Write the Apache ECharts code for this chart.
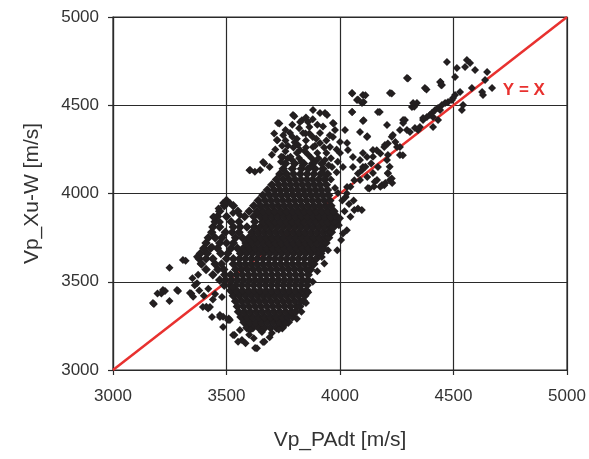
<!DOCTYPE html>
<html>
<head>
<meta charset="utf-8">
<script src="https://cdn.jsdelivr.net/npm/echarts@6/dist/echarts.min.js"></script>
<style>html,body{margin:0;padding:0;background:#fff;}#c{width:589px;height:459px;}</style>
</head>
<body>
<div id="c"></div>
<script>
// Axis ticks
const xTicks = [3000, 3500, 4000, 4500, 5000];
const yTicks = [3000, 3500, 4000, 4500, 5000];
// Reference line Y = X
const identityLine = [[3000, 3000], [5000, 5000]];
const identityLabel = 'Y = X';
const identityLabelAt = [[4810, 4586]];

// Dense core of the cloud
const corePoints = [
[3590,3240],[3616,3240],[3642,3240],[3668,3240],[3694,3240],[3720,3240],[3746,3240],
[3577,3270],[3603,3270],[3629,3270],[3655,3270],[3681,3270],[3707,3270],[3733,3270],[3759,3270],[3772,3270],
[3564,3300],[3590,3300],[3616,3300],[3642,3300],[3668,3300],[3694,3300],[3720,3300],[3746,3300],[3772,3300],[3790,3300],
[3553,3330],[3579,3330],[3605,3330],[3631,3330],[3657,3330],[3683,3330],[3709,3330],[3735,3330],[3761,3330],[3787,3330],[3805,3330],
[3548,3360],[3574,3360],[3600,3360],[3626,3360],[3652,3360],[3678,3360],[3704,3360],[3730,3360],[3756,3360],[3782,3360],[3808,3360],[3822,3360],
[3540,3390],[3566,3390],[3592,3390],[3618,3390],[3644,3390],[3670,3390],[3696,3390],[3722,3390],[3748,3390],[3774,3390],[3800,3390],[3826,3390],[3840,3390],
[3530,3420],[3556,3420],[3582,3420],[3608,3420],[3634,3420],[3660,3420],[3686,3420],[3712,3420],[3738,3420],[3764,3420],[3790,3420],[3816,3420],[3845,3420],
[3518,3450],[3544,3450],[3570,3450],[3596,3450],[3622,3450],[3648,3450],[3674,3450],[3700,3450],[3726,3450],[3752,3450],[3778,3450],[3804,3450],[3830,3450],[3852,3450],
[3490,3480],[3516,3480],[3542,3480],[3568,3480],[3594,3480],[3620,3480],[3646,3480],[3672,3480],[3698,3480],[3724,3480],[3750,3480],[3776,3480],[3802,3480],[3828,3480],[3855,3480],
[3470,3510],[3496,3510],[3522,3510],[3548,3510],[3574,3510],[3600,3510],[3626,3510],[3652,3510],[3678,3510],[3704,3510],[3730,3510],[3756,3510],[3782,3510],[3808,3510],[3834,3510],[3858,3510],
[3440,3540],[3492,3540],[3518,3540],[3544,3540],[3570,3540],[3596,3540],[3622,3540],[3648,3540],[3674,3540],[3700,3540],[3726,3540],[3752,3540],[3778,3540],[3804,3540],[3830,3540],[3860,3540],
[3410,3570],[3462,3570],[3488,3570],[3540,3570],[3566,3570],[3592,3570],[3618,3570],[3644,3570],[3670,3570],[3696,3570],[3722,3570],[3748,3570],[3774,3570],[3800,3570],[3826,3570],[3852,3570],[3870,3570],
[3390,3600],[3450,3600],[3478,3600],[3530,3600],[3556,3600],[3582,3600],[3608,3600],[3634,3600],[3660,3600],[3686,3600],[3712,3600],[3738,3600],[3764,3600],[3790,3600],[3816,3600],[3842,3600],[3868,3600],[3885,3600],
[3380,3630],[3410,3630],[3440,3630],[3500,3630],[3530,3630],[3557,3630],[3583,3630],[3609,3630],[3635,3630],[3661,3630],[3687,3630],[3713,3630],[3739,3630],[3765,3630],[3791,3630],[3817,3630],[3843,3630],[3869,3630],[3895,3630],
[3385,3660],[3415,3660],[3475,3660],[3505,3660],[3562,3660],[3588,3660],[3614,3660],[3640,3660],[3666,3660],[3692,3660],[3718,3660],[3744,3660],[3770,3660],[3796,3660],[3822,3660],[3848,3660],[3874,3660],[3900,3660],[3915,3660],
[3400,3690],[3430,3690],[3460,3690],[3520,3690],[3548,3690],[3574,3690],[3600,3690],[3626,3690],[3652,3690],[3678,3690],[3704,3690],[3730,3690],[3756,3690],[3782,3690],[3808,3690],[3834,3690],[3860,3690],[3886,3690],[3912,3690],[3925,3690],
[3410,3720],[3470,3720],[3500,3720],[3530,3720],[3586,3720],[3612,3720],[3638,3720],[3664,3720],[3690,3720],[3716,3720],[3742,3720],[3768,3720],[3794,3720],[3820,3720],[3846,3720],[3872,3720],[3898,3720],[3924,3720],[3938,3720],
[3420,3750],[3450,3750],[3480,3750],[3540,3750],[3570,3750],[3598,3750],[3624,3750],[3650,3750],[3676,3750],[3702,3750],[3728,3750],[3754,3750],[3780,3750],[3806,3750],[3832,3750],[3858,3750],[3884,3750],[3910,3750],[3936,3750],[3950,3750],
[3435,3780],[3495,3780],[3525,3780],[3555,3780],[3612,3780],[3638,3780],[3664,3780],[3690,3780],[3716,3780],[3742,3780],[3768,3780],[3794,3780],[3820,3780],[3846,3780],[3872,3780],[3898,3780],[3924,3780],[3950,3780],[3962,3780],
[3440,3810],[3470,3810],[3530,3810],[3560,3810],[3590,3810],[3622,3810],[3648,3810],[3674,3810],[3700,3810],[3726,3810],[3752,3810],[3778,3810],[3804,3810],[3830,3810],[3856,3810],[3882,3810],[3908,3810],[3934,3810],[3960,3810],[3972,3810],
[3450,3840],[3520,3840],[3555,3840],[3625,3840],[3660,3840],[3686,3840],[3712,3840],[3738,3840],[3764,3840],[3790,3840],[3816,3840],[3842,3840],[3868,3840],[3894,3840],[3920,3840],[3946,3840],[3972,3840],[3985,3840],
[3460,3870],[3500,3870],[3580,3870],[3620,3870],[3648,3870],[3674,3870],[3700,3870],[3726,3870],[3752,3870],[3778,3870],[3804,3870],[3830,3870],[3856,3870],[3882,3870],[3908,3870],[3934,3870],[3960,3870],[3986,3870],
[3470,3900],[3550,3900],[3600,3900],[3635,3900],[3661,3900],[3687,3900],[3713,3900],[3739,3900],[3765,3900],[3791,3900],[3817,3900],[3843,3900],[3869,3900],[3895,3900],[3921,3900],[3947,3900],[3973,3900],
[3490,3930],[3530,3930],[3620,3930],[3650,3930],[3676,3930],[3702,3930],[3728,3930],[3754,3930],[3780,3930],[3806,3930],[3832,3930],[3858,3930],[3884,3930],[3910,3930],[3936,3930],[3960,3930],
[3500,3960],[3640,3960],[3670,3960],[3696,3960],[3722,3960],[3748,3960],[3774,3960],[3800,3960],[3826,3960],[3852,3960],[3878,3960],[3904,3960],[3930,3960],[3955,3960],
[3660,3990],[3690,3990],[3716,3990],[3742,3990],[3768,3990],[3794,3990],[3820,3990],[3846,3990],[3872,3990],[3898,3990],[3924,3990],[3950,3990],
[3680,4020],[3710,4020],[3736,4020],[3762,4020],[3788,4020],[3814,4020],[3840,4020],[3866,4020],[3892,4020],[3918,4020],[3945,4020],
[3700,4050],[3730,4050],[3756,4050],[3782,4050],[3808,4050],[3834,4050],[3860,4050],[3886,4050],[3912,4050],[3940,4050],
[3720,4080],[3750,4080],[3776,4080],[3802,4080],[3828,4080],[3854,4080],[3880,4080],[3906,4080],[3932,4080],
[3735,4110],[3765,4110],[3795,4110],[3825,4110],[3855,4110],[3885,4110],[3915,4110],[3945,4110],
[3750,4140],[3790,4140],[3830,4140],[3860,4140],[3890,4140],[3925,4140],
[3760,4170],[3800,4170],[3840,4170],[3880,4170],[3920,4170]
];

// Upper part of the cloud
const upperPoints = [
[3881,4473],[3912,4456],[3943,4445],[3793,4445],[3727,4400],[3824,4405],[3859,4405],[3780,4343],[3837,4343],[3722,4303],
[3912,4343],[3749,4207],[3789,4190],[3824,4246],[3881,4263],[3912,4286],[3661,4178],[3604,4133],[3648,4133],[3934,4456],
[3969,4399],[3978,4360],[3956,4263],[3934,4190],[3965,4150],[3925,4116],[3969,4320],[3733,4396],[3799,4438],[3832,4415],
[3865,4377],[3790,4321],[3848,4340],[3782,4208],[3741,4208],[3724,4302],[3799,4170],[3972,4396],[3770,4270],[3800,4290],
[3850,4300],[3880,4320],[3900,4230],[3860,4220],[3820,4200],[3760,4240],[3940,4230],[3850,4260],[3890,4180],[3820,4370],
[3880,4420],[3760,4360],[3960,4200],[3900,4390],[3940,4300],[3715,4250],[3870,4150],[3835,4160],[3690,4150],[3625,4123],
[3601,4132],[3667,4170],[3740,4180],[3770,4200],[3810,4230],[3845,4240],[3875,4200],[3905,4200],[3930,4260],[3795,4260],
[3745,4270],[3810,4310],[3865,4340],[3895,4310],[3925,4380],[3850,4430],[3790,4390],[3750,4330],[3700,4220],[3955,4330],
[3985,4250],[3990,4180],[3950,4160],[3985,4120],[3960,4080],[3815,4275],[3890,4270],[3830,4180],[3760,4300],[3710,4340]
];

// Right edge of the core, right part of the cloud and trail along the line
const rightPoints = [
[3931,3604],[3947,3679],[3900,3560],[3880,3500],[3920,3640],[3860,3440],[3850,3380],[3830,3330],[3810,3290],[3925,3680],
[4000,4292],[4000,4229],[4013,4150],[4031,4037],[3978,4031],[3991,4003],[4031,4286],[4035,4246],[4057,4207],[4057,4150],
[4088,4190],[4101,4150],[4119,4207],[4101,4229],[4145,4246],[4198,4275],[4211,4218],[4251,4263],[4264,4218],[4233,4331],
[4264,4360],[4308,4348],[4352,4377],[4167,4150],[4207,4190],[4211,4116],[4185,4048],[4163,4076],[4220,4076],[4145,4116],
[4088,4076],[4123,4031],[4022,4360],[4088,4348],[4119,4320],[4207,4388],[4278,4416],[4366,4428],[4053,4462],[4167,4462],
[4101,4411],[4317,4490],[4339,4513],[4053,4569],[4075,4530],[4101,4558],[4097,4513],[4220,4569],[4295,4654],[4374,4598],
[4063,3906],[4079,3915],[4096,3906],[4046,3868],[4030,3792],[4005,3736],[3988,3679],[4013,3774],[4228,4321],[4244,4292],
[4277,4217],[4020,3900],[4040,3940],[4000,3860],[3995,3820],[4010,3960],[4060,3960],[4025,3980],[4030,4000],[4046,4038],
[4063,4075],[4079,4113],[4096,4132],[4112,4151],[4137,4170],[4145,4208],[4162,4245],[4178,4226],[4195,4264],[4211,4283],
[4211,4113],[4228,4085],[4195,4047],[4178,4038],[4153,4066],[4129,4028],[4120,4094],[4219,4151],[4200,4060],[4230,4060],
[4150,4040],[4054,4566],[4079,4532],[4104,4519],[4112,4557],[4054,4462],[4104,4415],[4120,4325],[4175,4462],[4228,4566],
[4299,4651],[4327,4491],[4381,4589],[4443,4632],[4446,4613]
];

// Upper-right points near the line
const topRightPoints = [
[4471,4745],[4559,4756],[4573,4739],[4551,4717],[4595,4700],[4515,4711],[4507,4660],[4648,4688],[4639,4643],[4441,4632],
[4449,4615],[4581,4598],[4626,4575],[4670,4598],[4630,4558],[4529,4575],[4537,4473],[4542,4501],[4507,4558],[4498,4541],
[4493,4530],[4476,4518],[4463,4513],[4449,4501],[4432,4484],[4419,4473],[4396,4445],[4383,4433],[4410,4433],[4322,4513],
[4286,4416],[4330,4371],[4344,4360],[4366,4416],[4405,4456],[4410,4377],[4432,4416],[4441,4473],[4264,4263],[4295,4360],
[4278,4399]
];

// Left tail and lower outliers
const leftPoints = [
[3180,3374],[3196,3434],[3213,3434],[3229,3447],[3249,3579],[3249,3391],[3287,3447],[3320,3619],[3345,3434],[3353,3415],
[3370,3642],[3370,3491],[3386,3604],[3411,3358],[3419,3349],[3308,3623],[3220,3453],[3176,3380],[3282,3453],[3339,3436],
[3396,3357],[3436,3300],[3471,3300],[3485,3244],[3507,3283],[3485,3302],[3510,3292],[3526,3472],[3480,3414],[3427,3357],
[3471,3312],[3515,3283],[3360,3480],[3380,3450],[3400,3420],[3440,3400],[3420,3460],[3450,3430],[3350,3520],[3375,3540],
[3485,3946],[3515,3946],[3441,3867],[3471,3839],[3529,3890],[3559,3878],[3436,3698],[3444,3868],[3465,3915],[3493,3943]
];
const bottomPoints = [
[3634,3123],[3584,3151],[3551,3160],[3667,3160],[3626,3125],[3661,3159],[3529,3198],[3559,3227],[3568,3170],[3604,3227],
[3656,3215],[3535,3198],[3600,3200],[3700,3210],[3730,3230],[3760,3260],[3620,3180],[3690,3185]
];

const outerPoints = [].concat(upperPoints, rightPoints, topRightPoints, leftPoints, bottomPoints);

const chart = echarts.init(document.getElementById('c'), null, {renderer: 'canvas'});
const FONT = '"Liberation Sans", Arial, sans-serif';
const plain = v => String(v);
chart.setOption({
  animation: false,
  backgroundColor: '#ffffff',
  grid: {left: 113, right: 22, top: 17, bottom: 89, show: true, borderColor: '#2a2a2a', borderWidth: 1.2},
  xAxis: {
    type: 'value', min: xTicks[0], max: xTicks[xTicks.length - 1], interval: 500,
    name: 'Vp_PAdt [m/s]', nameLocation: 'middle', nameGap: 60,
    nameTextStyle: {fontFamily: FONT, fontSize: 21, color: '#333'},
    axisLine: {show: true, lineStyle: {color: '#2a2a2a', width: 1.2}},
    axisTick: {show: true, length: 5, lineStyle: {color: '#2a2a2a', width: 1.2}},
    axisLabel: {fontFamily: FONT, fontSize: 17, color: '#333', margin: 18, formatter: plain},
    splitLine: {show: true, lineStyle: {color: '#2a2a2a', width: 1.2}}
  },
  yAxis: {
    type: 'value', min: yTicks[0], max: yTicks[yTicks.length - 1], interval: 500,
    name: 'Vp_Xu-W [m/s]', nameLocation: 'middle', nameGap: 70,
    nameTextStyle: {fontFamily: FONT, fontSize: 21, color: '#333'},
    axisLine: {show: true, lineStyle: {color: '#2a2a2a', width: 1.2}},
    axisTick: {show: true, length: 5, lineStyle: {color: '#2a2a2a', width: 1.2}},
    axisLabel: {fontFamily: FONT, fontSize: 17, color: '#333', margin: 14, formatter: plain},
    splitLine: {show: true, lineStyle: {color: '#2a2a2a', width: 1.2}}
  },
  series: [
    {
      type: 'line', data: identityLine, showSymbol: false, z: 1,
      lineStyle: {color: '#e8312f', width: 2.5}
    },
    {
      type: 'scatter', data: identityLabelAt, symbolSize: 1, z: 3, silent: true,
      itemStyle: {color: 'rgba(0,0,0,0)', opacity: 1},
      label: {show: true, position: 'inside', formatter: identityLabel, color: '#e8312f', opacity: 1,
              fontFamily: FONT, fontWeight: 'bold', fontSize: 17}
    },
    {
      type: 'scatter', data: corePoints, symbol: 'diamond', symbolSize: 9.5, z: 2,
      itemStyle: {color: '#231f20', opacity: 1}
    },
    {
      type: 'scatter', data: outerPoints, symbol: 'diamond', symbolSize: 8, z: 2,
      itemStyle: {color: '#231f20', opacity: 1}
    }
  ]
});
</script>
</body>
</html>
